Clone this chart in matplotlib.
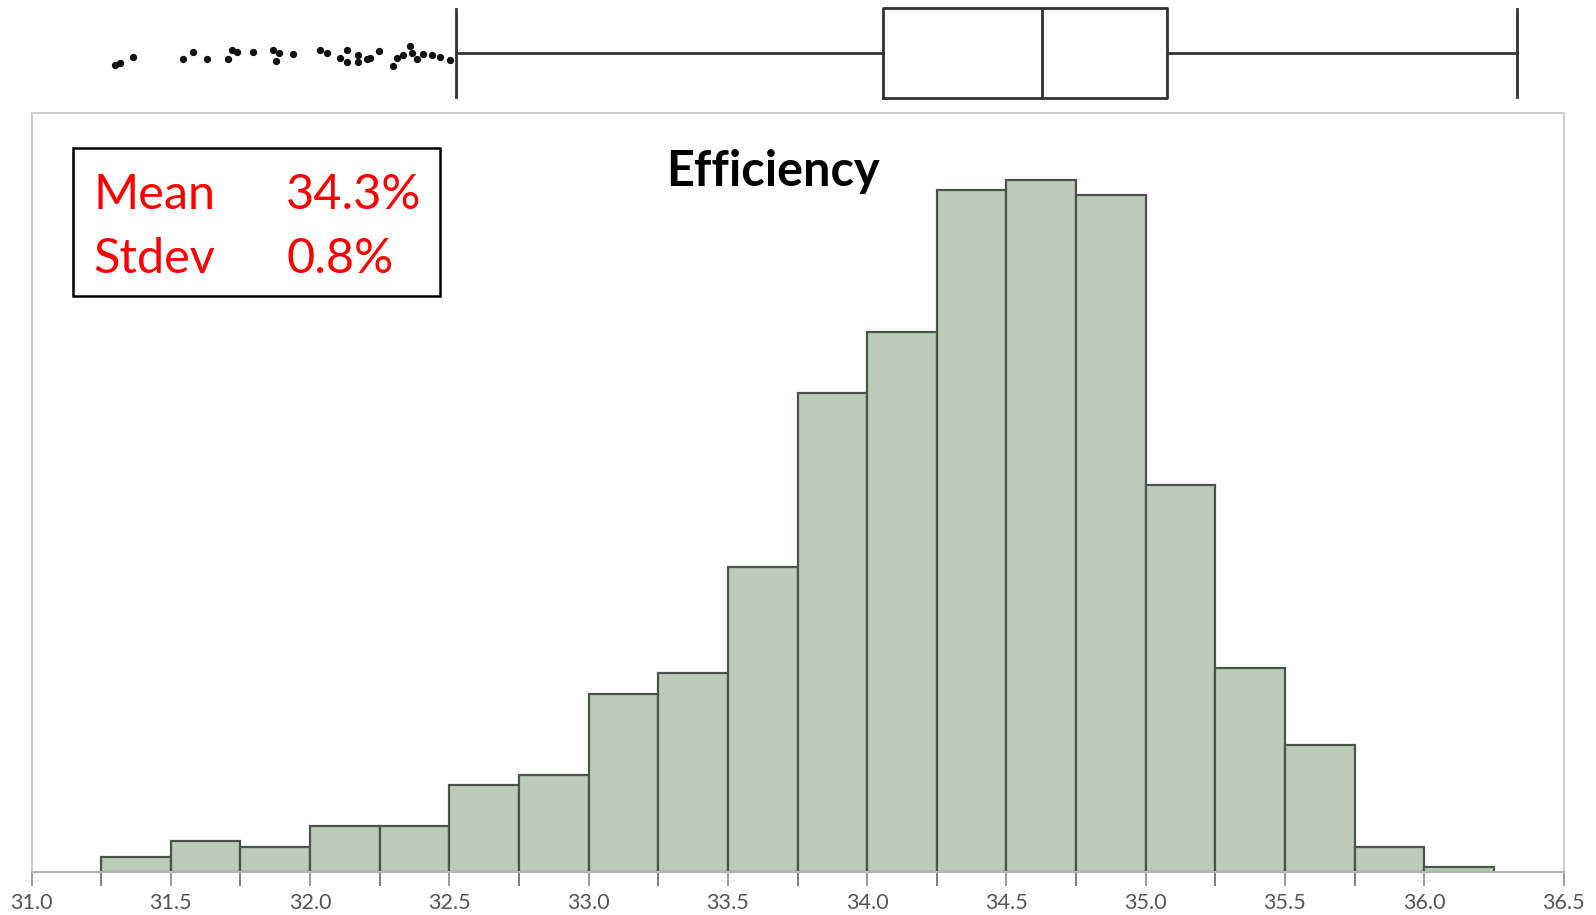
import numpy as np
import matplotlib.pyplot as plt
from matplotlib.patches import Rectangle

# efficiency histogram (0.25 wide bins) with a box plot strip above it
bin_left = [31.25, 31.50, 31.75, 32.00, 32.25, 32.50, 32.75, 33.00, 33.25, 33.50,
            33.75, 34.00, 34.25, 34.50, 34.75, 35.00, 35.25, 35.50, 35.75, 36.00]
counts = [3, 6, 5, 9, 9, 17, 19, 35, 39, 60, 94, 106, 134, 136, 133, 76, 40, 25, 5, 1]
bin_width = 0.25

# box plot summary
box_q1, box_med, box_q3 = 34.055, 34.629, 35.078
whisker_lo, whisker_hi = 32.524, 36.332

# low outliers and their vertical jitter
outlier_x = [31.30, 31.317, 31.364, 31.544, 31.58, 31.63, 31.705, 31.72, 31.737, 31.795,
             31.867, 31.878, 31.89, 31.938, 32.035, 32.06, 32.107, 32.132, 32.132, 32.172,
             32.172, 32.204, 32.215, 32.248, 32.298, 32.313, 32.334, 32.359, 32.366, 32.384,
             32.405, 32.437, 32.466, 32.502]
outlier_jit = [-0.23, -0.19, -0.08, -0.11, 0.02, -0.11, -0.11, 0.06, 0.02, 0.02,
               0.06, -0.15, 0.0, -0.02, 0.06, 0.0, -0.09, 0.06, -0.17, -0.04,
               -0.17, -0.11, -0.09, 0.04, -0.25, -0.09, -0.04, 0.13, 0.0, -0.11,
               -0.02, -0.04, -0.08, -0.13]

tick_vals = [31.0, 31.5, 32.0, 32.5, 33.0, 33.5, 34.0, 34.5, 35.0, 35.5, 36.0, 36.5]

W, H = 1596, 915
fig = plt.figure(figsize=(W / 100, H / 100), dpi=100)

left, right = 31.6 / W, 1563.5 / W

# histogram
ax = fig.add_axes([left, 43 / H, right - left, 759 / H])
ax.bar(bin_left, counts, width=bin_width, align='edge',
       color='#bccbba', edgecolor='#4c524c', linewidth=1.6, zorder=2)
ax.set_xlim(31.0, 36.5)
ax.set_ylim(0, 149.1)
ax.set_yticks([])
ax.set_xticks(tick_vals)
ax.set_xticklabels(['%.1f' % v for v in tick_vals])
ax.set_xticks(np.array(bin_left[::2]) + 0.0, minor=True)
ax.tick_params(axis='x', which='major', length=10, width=1.2, color='#8a8a8a',
               labelsize=15.5, labelcolor='#555555', pad=5)
ax.tick_params(axis='x', which='minor', length=10, width=1.2, color='#6a6a6a')
for lab in ax.get_xticklabels():
    lab.set_family('Lato')
for s in ax.spines.values():
    s.set_color('#cfcfcf')
    s.set_linewidth(1.5)
ax.spines['bottom'].set_color('#b5b5b5')

# box plot strip
bx = fig.add_axes([left, 1 - 106 / H, right - left, 106 / H])
stats = [dict(med=box_med, q1=box_q1, q3=box_q3, whislo=whisker_lo, whishi=whisker_hi)]
line_kw = dict(color='#333333', linewidth=2)
bx.bxp(stats, positions=[0], widths=1.69, vert=False, showfliers=False,
       boxprops=line_kw, medianprops=line_kw, whiskerprops=line_kw,
       capprops=line_kw, capwidths=1.67)
bx.scatter(outlier_x, outlier_jit, s=18, color='#111111', zorder=3)
bx.set_xlim(31.0, 36.5)
bx.set_ylim(-1, 1)
bx.axis('off')

# title and summary box
fig.text(773 / W, 1 - 186.3 / H, 'Efficiency', family='Lato', weight='bold',
         fontsize=35, ha='center', va='baseline', color='black')
fig.patches.append(Rectangle((73 / W, 1 - 296 / H), 367 / W, 148 / H,
                             transform=fig.transFigure, fill=False,
                             edgecolor='black', linewidth=1.8))
red = '#ff0000'
fig.text(93.7 / W, 1 - 208.6 / H, 'Mean', family='Lato', fontsize=35, color=red, va='baseline')
fig.text(286 / W, 1 - 208.6 / H, '34.3%', family='Lato', fontsize=35, color=red, va='baseline')
fig.text(93.7 / W, 1 - 272.8 / H, 'Stdev', family='Lato', fontsize=35, color=red, va='baseline')
fig.text(286 / W, 1 - 272.8 / H, '0.8%', family='Lato', fontsize=35, color=red, va='baseline')

fig.savefig('out.png', dpi=100)
